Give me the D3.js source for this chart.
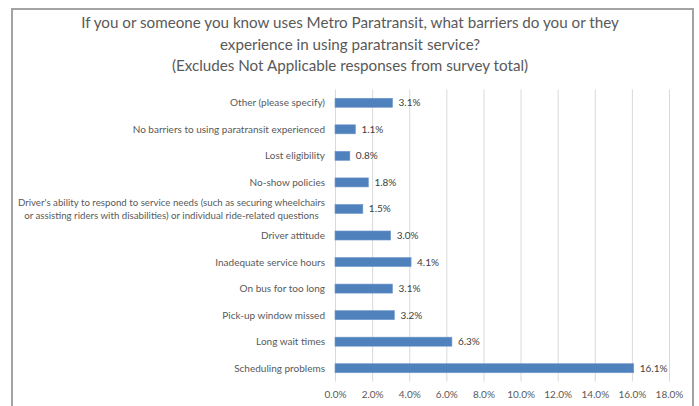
<!DOCTYPE html>
<html><head><meta charset="utf-8">
<script src="https://cdn.jsdelivr.net/npm/d3@7"></script>
<style>body{margin:0;background:#fff}svg{display:block}</style>
</head><body>
<svg id="c" width="699" height="406"></svg>
<script>
const categories = [
  "Other (please specify)",
  "No barriers to using paratransit experienced",
  "Lost eligibility",
  "No-show policies",
  "Driver's ability to respond to service needs (such as securing wheelchairs|or assisting riders with disabilities) or individual ride-related questions",
  "Driver attitude",
  "Inadequate service hours",
  "On bus for too long",
  "Pick-up window missed",
  "Long wait times",
  "Scheduling problems"
];
const values = [3.1, 1.1, 0.8, 1.8, 1.5, 3.0, 4.1, 3.1, 3.2, 6.3, 16.1];
const tickValues = [0, 2, 4, 6, 8, 10, 12, 14, 16, 18];
const titleLines = [
  "If you or someone you know uses Metro Paratransit, what barriers do you or they",
  "experience in using paratransit service?",
  "(Excludes Not Applicable responses from survey total)"
];

const svg = d3.select("#c");
const font = "Lato, 'Open Sans', sans-serif";
// border
svg.append("rect").attr("x", 12).attr("y", 9).attr("width", 681).attr("height", 420)
  .attr("fill", "none").attr("stroke", "#a3a3a6").attr("stroke-width", 2);

// title
svg.append("g").selectAll("text").data(titleLines).join("text")
  .attr("x", 350).attr("y", (d, i) => 28 + i * 21.5)
  .attr("text-anchor", "middle").attr("font-family", font).attr("font-size", 15.2)
  .attr("fill", "#595959").text(d => d);

const x = d3.scaleLinear().domain([0, 18]).range([335, 669]);
const y = d3.scaleBand().domain(categories).range([89.5, 381.5]).paddingInner(0.66).paddingOuter(0.33);

// gridlines
svg.append("g").selectAll("line").data(tickValues).join("line")
  .attr("x1", d => x(d) + 0.5).attr("x2", d => x(d) + 0.5)
  .attr("y1", 89.5).attr("y2", 381.5)
  .attr("stroke", "#d9d9d9").attr("stroke-width", 1);

// x axis labels
const xAxis = d3.axisBottom(x).tickValues(tickValues).tickSize(0).tickPadding(0)
  .tickFormat(d => d.toFixed(1) + "%");
const gx = svg.append("g").attr("transform", "translate(0,391)").call(xAxis);
gx.select(".domain").remove();
gx.selectAll("text").attr("font-family", font).attr("font-size", 10).attr("fill", "#595959");

// bars
svg.append("g").selectAll("rect").data(values).join("rect")
  .attr("x", x(0)).attr("y", (d, i) => y(categories[i]))
  .attr("width", d => x(d) - x(0)).attr("height", y.bandwidth())
  .attr("fill", "#4f81bd").attr("stroke", "#6f98cc").attr("stroke-width", 0.6);

// value labels
svg.append("g").selectAll("text").data(values).join("text")
  .attr("x", d => x(d) + 6).attr("y", (d, i) => y(categories[i]) + y.bandwidth() / 2)
  .attr("dy", "0.35em").attr("font-family", font).attr("font-size", 10).attr("fill", "#404040")
  .text(d => d.toFixed(1) + "%");

// category labels
const labelRight = 325;
categories.forEach((c, i) => {
  const lines = c.split("|");
  const cy = y(c) + y.bandwidth() / 2;
  const g = svg.append("g");
  const texts = lines.map((l, j) => g.append("text")
    .attr("y", cy + (j - (lines.length - 1) / 2) * 13)
    .attr("dy", "0.35em").attr("font-family", font).attr("font-size", lines.length > 1 ? 9.7 : 10)
    .attr("fill", "#595959").text(l));
  if (lines.length === 1) {
    texts[0].attr("x", labelRight).attr("text-anchor", "end");
  } else {
    const w = d3.max(texts, t => t.node().getComputedTextLength());
    texts.forEach(t => t.attr("x", labelRight - w / 2).attr("text-anchor", "middle"));
  }
});
</script>
</body></html>
